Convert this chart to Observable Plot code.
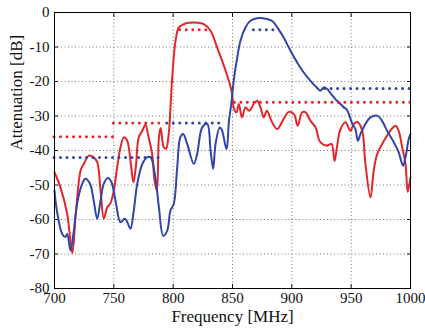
<!DOCTYPE html>
<html>
<head>
<meta charset="utf-8">
<script src="https://cdn.jsdelivr.net/npm/d3@7"></script>
<script src="https://cdn.jsdelivr.net/npm/@observablehq/plot@0.6"></script>
<style>
  html, body { margin: 0; padding: 0; background: #fff; }
  #chart { width: 425px; height: 331px; }
</style>
</head>
<body>
<div id="chart"></div>
<script>
// Measured curves (frequency in MHz, attenuation in dB)
const redFreq = [700, 705, 710.7, 715, 717.7, 722, 724.7, 729, 733, 736, 738.8, 741.6, 744.4, 747, 750, 752.8, 755.6, 758.4, 761.3, 764, 766.5, 768.5, 771, 774, 776.7, 779, 782.3, 784.3, 786.3, 788, 789.5, 792, 794, 796.3, 799, 802, 804.8, 809, 813, 817.4, 821.5, 825.8, 831.5, 837, 842.7, 846.9, 849.7, 851, 853.4, 855.3, 858, 861, 864, 868, 870.8, 873.6, 876.4, 879, 883.5, 887.7, 893, 897.4, 901.7, 905, 908.7, 911.5, 915.7, 920, 924, 929.8, 933.4, 936, 938, 941, 945.2, 949.4, 952.2, 955.6, 959.3, 962, 966.3, 969, 972, 977.6, 983, 987.4, 990, 993, 995.8, 997.7, 1000];
const redDb   = [-46.3, -50.7, -58.4, -69.7, -59.4, -45.8, -43.9, -41.5, -42.0, -43.4, -51.6, -59.8, -56.5, -55.4, -51.6, -44.9, -39.1, -36.2, -37.2, -42.9, -49.2, -44.9, -36.2, -34.3, -32.5, -35.7, -41.0, -48.7, -51.6, -36.2, -33.5, -39.0, -39.5, -35.0, -19.8, -8.2, -4.3, -3.4, -3.0, -2.9, -3.0, -3.4, -5.3, -10.1, -15.4, -19.8, -23.6, -27.6, -29.0, -26.5, -30.4, -27.5, -28.5, -26.5, -25.6, -27.5, -30.4, -28.5, -31.9, -33.8, -30.9, -28.8, -29.4, -32.8, -28.9, -28.9, -31.4, -33.3, -37.6, -38.6, -38.1, -43.0, -39.1, -33.8, -31.8, -34.3, -32.3, -31.8, -34.3, -43.9, -53.6, -45.8, -41.0, -37.2, -34.3, -32.8, -34.3, -39.1, -43.9, -52.0, -47.8];

const blueFreq = [700, 702, 706.5, 709, 710.7, 713.5, 716.3, 719, 723.3, 726, 730, 733, 736, 738.8, 741.5, 745, 748, 751.4, 755.6, 759, 761, 764, 766.8, 769.7, 774, 778, 781, 785, 788, 791.6, 795, 797.7, 800.5, 803.4, 806, 808.4, 811.8, 817.4, 820.2, 824.5, 828.7, 831.5, 833.7, 835.7, 839.3, 841, 845, 847, 849, 851, 854, 856.7, 861, 865, 872, 879, 884, 887.7, 893, 898.9, 904.5, 910, 915.7, 921.4, 924, 927, 929.8, 932.6, 938, 941, 943.8, 946, 948, 951, 953.6, 955.6, 957.9, 962, 966.3, 972, 976, 980.3, 985.9, 990, 993.8, 995.8, 998.5, 1000];
const blueDb   = [-51.6, -57.4, -64.2, -65.1, -64.2, -69.0, -63.2, -55.5, -49.7, -48.2, -49.7, -54.5, -59.8, -54.5, -49.7, -48.0, -49.2, -54.5, -60.8, -59.8, -60.5, -62.7, -57.4, -49.7, -43.9, -42.0, -42.0, -47.8, -56.5, -64.7, -63.2, -57.4, -55.5, -44.9, -36.2, -35.2, -38.1, -43.9, -41.0, -33.3, -32.3, -40.0, -45.3, -38.1, -33.3, -34.0, -39.6, -31.4, -26.5, -19.8, -13.0, -8.2, -4.3, -2.4, -1.6, -1.9, -2.6, -4.3, -7.2, -11.1, -14.5, -17.4, -19.8, -21.9, -22.7, -21.7, -22.2, -23.4, -25.6, -26.5, -27.5, -28.0, -29.4, -32.3, -33.8, -37.2, -35.2, -32.3, -30.4, -29.9, -31.4, -34.3, -37.6, -40.5, -44.4, -42.0, -36.7, -35.2];

// Spec masks (dotted)
const redSpecStart = [700, 750, 806, 852];
const redSpecEnd   = [750, 793, 830, 1000];
const redSpecLevel = [-36, -32, -5, -26];
const blueSpecStart = [700, 795, 868, 928];
const blueSpecEnd   = [790, 842, 888, 1000];
const blueSpecLevel = [-42, -32, -5, -22];

const xTicks = [700, 750, 800, 850, 900, 950, 1000];
const yTicks = [0, -10, -20, -30, -40, -50, -60, -70, -80];

const red = redFreq.map((f, i) => ({f, db: redDb[i]}));
const blue = blueFreq.map((f, i) => ({f, db: blueDb[i]}));
const redSpec = redSpecStart.map((s, i) => ({x1: s, x2: redSpecEnd[i], y: redSpecLevel[i]}));
const blueSpec = blueSpecStart.map((s, i) => ({x1: s, x2: blueSpecEnd[i], y: blueSpecLevel[i]}));

const RED = "#e3262b";
const BLUE = "#3344a8";
const fmt = d => String(d);

const chart = Plot.plot({
  width: 425,
  height: 331,
  marginLeft: 54,
  marginRight: 15,
  marginTop: 12,
  marginBottom: 43,
  style: {fontFamily: "'Liberation Serif', 'Times New Roman', serif", fontSize: "15px", color: "#111", background: "#fff"},
  x: {domain: [700, 1000]},
  y: {domain: [-80, 0]},
  marks: [
    Plot.gridX(xTicks, {stroke: "#777", strokeOpacity: 1, strokeDasharray: "1,2.5"}),
    Plot.gridY(yTicks, {stroke: "#777", strokeOpacity: 1, strokeDasharray: "1,2.5"}),
    Plot.axisX(xTicks, {tickSize: 0, tickPadding: 4, tickFormat: fmt, label: null}),
    Plot.axisY(yTicks, {tickSize: 0, tickPadding: 5, tickFormat: fmt, label: null}),
    Plot.axisX(xTicks, {anchor: "bottom", tickSize: 4, dy: -4, tickFormat: () => "", label: null}),
    Plot.axisX(xTicks, {anchor: "top", tickSize: 4, dy: 4, tickFormat: () => "", label: null}),
    Plot.axisY(yTicks, {anchor: "left", tickSize: 4, dx: 4, tickFormat: () => "", label: null}),
    Plot.axisY(yTicks, {anchor: "right", tickSize: 4, dx: -4, tickFormat: () => "", label: null}),
    Plot.line(red, {x: "f", y: "db", stroke: RED, strokeWidth: 2, curve: "catmull-rom"}),
    Plot.line(blue, {x: "f", y: "db", stroke: BLUE, strokeWidth: 2, curve: "catmull-rom"}),
    Plot.ruleY(redSpec, {x1: "x1", x2: "x2", y: "y", stroke: RED, strokeWidth: 3, strokeDasharray: "0,6.5", strokeLinecap: "round"}),
    Plot.ruleY(blueSpec, {x1: "x1", x2: "x2", y: "y", stroke: BLUE, strokeWidth: 3, strokeDasharray: "0,6.5", strokeLinecap: "round"}),
    Plot.frame({stroke: "#000", strokeWidth: 1}),
    Plot.text(["Frequency [MHz]"], {frameAnchor: "bottom", dy: 33, fontSize: 17, fill: "#111"}),
    Plot.text(["Attenuation [dB]"], {frameAnchor: "left", rotate: -90, dx: -38, fontSize: 17, fill: "#111"})
  ]
});
document.getElementById("chart").appendChild(chart);
</script>
</body>
</html>
